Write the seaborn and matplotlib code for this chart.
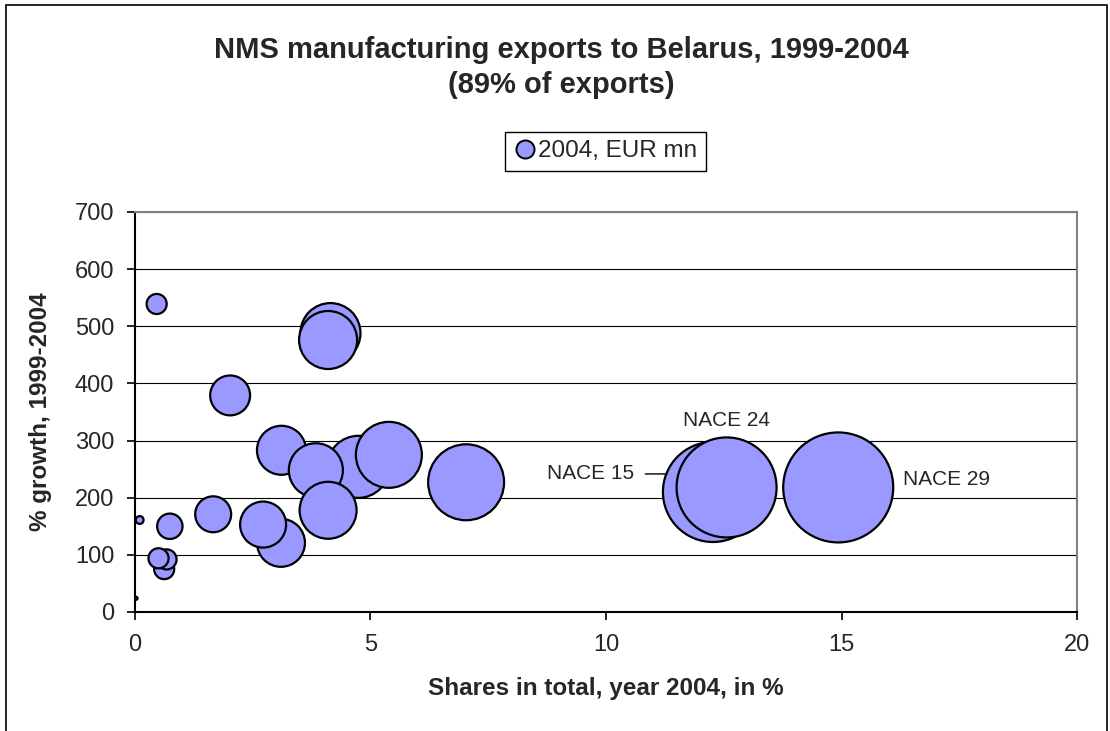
# bubble chart: NMS manufacturing exports to Belarus

import seaborn as sns
import pandas as pd
import matplotlib.pyplot as plt
from matplotlib.lines import Line2D
from matplotlib.patches import Rectangle
from matplotlib.transforms import offset_copy

# values, listed in drawing order (back to front)
share_2004 = [0.02, 0.10, 0.46, 0.62, 0.67, 0.50, 0.74, 1.66, 2.02, 3.10, 2.72,
              3.11, 4.74, 3.84, 4.10, 5.39, 4.15, 4.10, 7.03, 14.93, 12.27, 12.56]
growth_99_04 = [24, 161, 539, 75, 92, 94, 150, 171, 379, 121, 153,
                283, 254, 248, 178, 275, 488, 476, 227, 218, 210, 218]
exports_eur_mn = [0.05, 0.3, 2.0, 2.0, 2.0, 2.0, 3.2, 6.4, 7.9, 11.4, 10.5,
                  11.9, 19.1, 14.5, 16.1, 21.6, 17.9, 16.7, 28.6, 60.0, 49.6, 49.6]
labels = [''] * 19 + ['NACE 29', 'NACE 15', 'NACE 24']

x_ticks = [0, 5, 10, 15, 20]
y_ticks = [0, 100, 200, 300, 400, 500, 600, 700]

df = pd.DataFrame({'share': share_2004, 'growth': growth_99_04,
                   'eur': exports_eur_mn, 'label': labels})

sns.set_style('white')
plt.rcParams['font.family'] = ['Liberation Sans', 'DejaVu Sans']

fig = plt.figure(figsize=(11.1, 7.31), dpi=100)
ax = fig.add_axes([0.1216, 0.1628, 0.8487, 0.5472])

bubble = '#9999FF'
sns.scatterplot(data=df, x='share', y='growth', size='eur', sizes=(0, 6273),
                size_norm=(0, 60), color=bubble, edgecolor='black', linewidth=1.6,
                alpha=1, legend=False, ax=ax, zorder=3)

ax.set_xlim(0, 20)
ax.set_ylim(0, 700)
ax.set_xticks(x_ticks)
ax.set_yticks(y_ticks)
ax.tick_params(axis='both', labelsize=17, direction='out', length=6, width=1.2,
               color='black', left=True, bottom=True)
ax.tick_params(axis='x', pad=10)
ax.tick_params(axis='y', pad=9)
ax.yaxis.grid(True, color='black', linewidth=0.8)
ax.set_axisbelow(True)
for side in ['left', 'bottom']:
    ax.spines[side].set_color('black')
    ax.spines[side].set_linewidth(1.5)
for side in ['top', 'right']:
    ax.spines[side].set_color('#808080')
    ax.spines[side].set_linewidth(1.5)

ax.set_xlabel('Shares in total, year 2004, in %', fontsize=17.5, fontweight='bold', labelpad=15)
ax.set_ylabel('% growth, 1999-2004', fontsize=17.5, fontweight='bold', labelpad=16)

# labels for the three big sectors
r = df.set_index('label')
ax.annotate('NACE 24', xy=(r.loc['NACE 24', 'share'], r.loc['NACE 24', 'growth']),
            xytext=(0, 48), textcoords='offset points', ha='center', va='center', fontsize=15)
ax.annotate('NACE 29', xy=(r.loc['NACE 29', 'share'], r.loc['NACE 29', 'growth']),
            xytext=(47, 6), textcoords='offset points', ha='left', va='center', fontsize=15)
# leader line ends at the left rim of the NACE 15 bubble
rim = offset_copy(ax.transData, fig=fig, x=-33, y=13, units='points')
ax.annotate('NACE 15', xy=(r.loc['NACE 15', 'share'], r.loc['NACE 15', 'growth']),
            xycoords=rim, xytext=(-24, 0), textcoords='offset points',
            ha='right', va='center', fontsize=15,
            arrowprops=dict(arrowstyle='-', color='black', lw=1, shrinkA=6, shrinkB=0,
                            relpos=(1, 0.5)))

fig.text(0.5054, 0.932, 'NMS manufacturing exports to Belarus, 1999-2004',
         ha='center', va='center', fontsize=21, fontweight='bold')
fig.text(0.5054, 0.884, '(89% of exports)', ha='center', va='center', fontsize=21, fontweight='bold')

handle = Line2D([], [], marker='o', linestyle='', markersize=13, markerfacecolor=bubble,
                markeredgecolor='black', markeredgewidth=1.4)
fig.legend([handle], ['2004, EUR mn'], loc='center', bbox_to_anchor=(0.5455, 0.793),
           fontsize=17.5, frameon=True, fancybox=False, edgecolor='black', framealpha=1,
           handletextpad=0.1, borderpad=0.35, handlelength=0.9)

# outer chart frame
fig.patches.append(Rectangle((6 / 1110, -0.05), 1101 / 1110, 1.05 - 5 / 731,
                             transform=fig.transFigure, fill=False, edgecolor='black',
                             linewidth=1.2))

fig.savefig('out.png', dpi=100)
